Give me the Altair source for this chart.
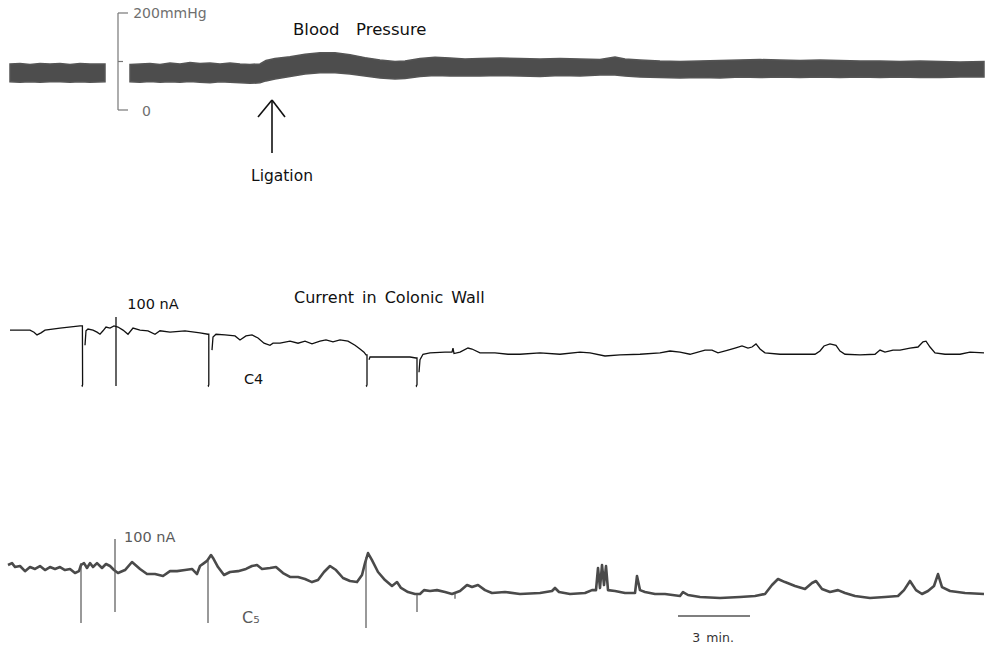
import altair as alt
import pandas as pd

# ---------------- data (time in seconds; 3 min = 180 s) ----------------
# Blood pressure band (systolic / diastolic, mmHg); two recording segments
bp_t = [25, 50, 75, 100, 125, 150, 175, 200, 225, 262.5,
        325, 350, 375, 400, 425, 450, 475, 500, 525, 550, 575, 600, 625, 650,
        665, 687.5, 725, 762.5, 800, 837.5, 875, 912.5, 950, 987.5, 1012.5,
        1050, 1087.5, 1125, 1162.5, 1200, 1250, 1300, 1350, 1400, 1450, 1500,
        1537.5, 1562.5, 1600, 1650, 1700, 1750, 1800, 1850, 1900, 1950, 2000,
        2050, 2100, 2150, 2200, 2250, 2300, 2350, 2400, 2460]
bp_sys = [95, 96, 94, 96, 95, 96, 94, 96, 95, 95,
          94, 95, 96, 94, 97, 95, 98, 96, 97, 95, 97, 95, 94, 95,
          102, 106, 110, 115, 118, 118, 114, 108, 103, 100, 101,
          106, 109, 107, 105, 106, 107, 106, 105, 106, 105, 104,
          109, 105, 103, 101, 100, 101, 102, 103, 104, 103, 102,
          103, 102, 101, 101, 100, 101, 100, 99, 100]
bp_dia = [58, 57, 58, 57, 58, 58, 57, 58, 57, 58,
          58, 57, 59, 57, 58, 57, 59, 57, 56, 58, 57, 56, 55, 56,
          60, 64, 69, 74, 77, 77, 74, 70, 66, 64, 65,
          69, 71, 70, 70, 70, 71, 70, 69, 71, 70, 72,
          72, 70, 68, 67, 66, 67, 66, 68, 67, 68, 67,
          68, 67, 68, 67, 68, 67, 67, 68, 68]
bp_seg = [1] * 10 + [2] * 56

# Current C4 (nA), pen segments
c4_t = [25, 75, 85, 92.5, 102.5, 112.5, 150, 200, 205, 206, 206.5, 205.5, 204,
        212.5, 215, 220, 232.5, 242.5, 250, 257.5, 265, 275, 285, 295, 307.5, 320,
        332.5, 350, 370, 387.5, 400, 425, 462.5, 500, 520, 522, 522, 521, 519.5,
        530, 532.5, 540, 562.5, 587.5, 600, 615, 630, 645, 660, 675, 682.5, 700,
        725, 745, 762.5, 780, 800, 815, 832.5, 850, 870, 887.5, 900, 910, 915,
        917.5, 917.5, 916.5, 915,
        922.5, 925, 950, 987.5, 1025, 1040, 1042.5, 1042.5, 1041, 1040,
        1047.5, 1050, 1057.5, 1075, 1112.5, 1130, 1132.5, 1135, 1150, 1170, 1180,
        1200, 1237.5, 1270, 1300, 1350, 1400, 1450, 1475, 1512.5, 1550, 1600,
        1650, 1675, 1700, 1725, 1762.5, 1780, 1795, 1820, 1837.5, 1855, 1870,
        1880, 1890, 1900, 1912.5, 1950, 2000, 2037.5, 2050, 2060, 2075, 2090,
        2100, 2112.5, 2150, 2187.5, 2200, 2212.5, 2232.5, 2250, 2275, 2295,
        2307.5, 2315, 2325, 2337.5, 2362.5, 2400, 2425, 2460]
c4_v = [81, 81, 78, 74, 77, 81, 84, 87, 87, 87, 2, 0, 1,
        59, 80, 82.6, 81, 78, 75, 80, 85.5, 84, 87, 85.5, 81, 75,
        84, 81, 80, 75, 80, 78, 80, 77, 75, 75, 2, 0, 1,
        52, 71, 75, 74, 72.5, 66.7, 72.5, 74, 69.6, 62, 59, 62, 62,
        65, 62, 65, 61, 65, 66.7, 64, 66.7, 65, 59, 53.6, 49, 45,
        45, 2, 0, 1,
        38, 42, 42, 42, 42, 40.6, 40.6, 2, 0, 1,
        20, 38, 46, 48, 49, 49, 55, 47, 49, 55, 53.6,
        48, 48, 46, 46, 48, 46, 49, 48, 43.5, 45, 46,
        48, 50.7, 49, 46, 52, 52, 48, 52, 55, 58, 55,
        56.5, 61, 53.6, 48, 46, 46, 46, 50.7, 58, 61, 59,
        50.7, 46, 45, 46, 52, 49, 52, 52, 55, 56.5,
        64, 65, 56.5, 48, 46, 46, 49, 48]
c4_seg = [1] * 13 + [2] * 26 + [3] * 30 + [4] * 10 + [5] * 62

# Current C5 (nA)
c5_t = [20, 30, 37.5, 50, 62.5, 75, 87.5, 100, 112.5, 125, 137.5, 150, 162.5,
        175, 187.5, 197.5, 202.5, 210, 217.5, 225, 232.5, 242.5, 255, 265, 275,
        285, 295, 312.5, 330, 350, 367.5, 387.5, 407.5, 425, 442.5, 462.5, 480,
        492.5, 500, 510, 517.5, 527.5, 532.5, 545, 560, 575, 595, 615, 630,
        642.5, 655, 675, 690, 707.5, 725, 745, 762.5, 780, 795, 810, 825, 840,
        857.5, 875, 892.5, 905, 912.5, 920, 930, 945, 962.5, 980, 992.5, 1002.5,
        1020, 1037.5, 1050, 1060, 1075, 1092.5, 1112.5, 1130, 1150, 1167.5,
        1180, 1195, 1212.5, 1230, 1262.5, 1300, 1350, 1380, 1387.5, 1397.5,
        1425, 1462.5, 1480, 1490, 1495, 1500, 1505, 1510, 1515, 1520, 1537.5,
        1562.5, 1587.5, 1592.5, 1600, 1612.5, 1637.5, 1662.5, 1700, 1707.5,
        1720, 1750, 1800, 1850, 1887.5, 1912.5, 1930, 1945, 1962.5, 1987.5,
        2012.5, 2030, 2040, 2055, 2075, 2095, 2112.5, 2137.5, 2175, 2212.5,
        2245, 2260, 2275, 2290, 2305, 2320, 2335, 2345, 2355, 2375, 2412.5, 2460]
c5_v = [64.4, 67, 61.6, 63, 56, 61.6, 59, 63, 57.5, 61.6, 59, 61.6, 57.5,
        59, 53.4, 56, 64.4, 67, 60.3, 67, 61.6, 67, 60.3, 65.8, 63,
        57.5, 53.4, 57.5, 68.5, 59, 52, 52, 49.3, 56, 56, 57.5, 59,
        52, 63, 67, 70, 78, 74, 61.6, 50.7, 54.8, 56, 59, 63,
        64.4, 59, 60.3, 61.6, 53.4, 48, 48, 45.2, 41, 43.8, 54.8, 63, 57.5,
        46.6, 42.5, 41, 50.7, 67, 80.8, 71, 54.8, 43.8, 35.6, 41, 32.9,
        27.4, 24.7, 24.7, 30, 28.8, 30, 27.4, 24.7, 28.8, 37,
        34.2, 37, 30, 26, 27.4, 24.7, 26, 28.8, 32.9, 27.4,
        24.7, 26, 30, 30, 60.3, 32.9, 64.4, 37, 63, 30, 28.8,
        26, 26, 49.3, 30, 27.4, 24.7, 24.7, 21.9, 27.4,
        23.3, 20.5, 19.2, 20.5, 21.9, 24.7, 37, 45.2, 41, 35.6,
        31.5, 39.7, 42.5, 31.5, 27.4, 30, 26, 21.9, 19.2, 20.5,
        21.9, 30, 42.5, 30, 24.7, 28.8, 35.6, 52, 34.2, 28.8, 26, 24.7]
# thin pen strokes in C5 (time, top, bottom in nA)
c5_spk_t = [202.5, 520, 915, 1042.5, 1137.5]
c5_spk_top = [67, 70, 75, 25, 25]
c5_spk_bot = [-15, -15, -22, 0, 18]

# Calibration / annotation marks
bp_scale_t = [295, 295, 295, 295]
bp_scale_t2 = [295, 320, 307.5, 320]
bp_scale_v = [0, 200, 100, 0]
bp_scale_v2 = [200, 200, 100, 0]

arrow_t = [680, 645, 712.5]
arrow_t2 = [680, 680, 680]
arrow_v = [-88.7, -14.4, -14.4]
arrow_v2 = [20.6, 20.6, 20.6]

SP = "\u2002\u2002"  # wide word gap of the original lettering
bp_labels = ["200mmHg", "0"]
bp_label_t = [333, 355]
bp_label_v = [198, -5]
bp_titles = ["Blood" + SP + "Pressure", "Ligation"]
bp_title_t = [732.5, 705]
bp_title_v = [165, -136]

c4_cal_t, c4_cal_lo, c4_cal_hi = [290], [0], [100]
c4_labels = ["100 nA", "\u2002".join(["Current", "in", "Colonic", "Wall"]), "C4"]
c4_label_t = [318, 735, 610]
c4_label_v = [117, 127.5, 8.7]

c5_cal_t, c5_cal_lo, c5_cal_hi = [287.5], [0], [100]
c5_labels = ["100 nA", "C\u2085", "3\u2002min."]
c5_label_t = [310, 605, 1782.5]
c5_label_v = [101, -8.2, -35.6]
time_bar_t, time_bar_t2, time_bar_v = [1695], [1875], [-5.5]

# ---------------- scales ----------------
FONT = "DejaVu Sans"
xs = alt.Scale(domain=[0, 2462.5], nice=False, zero=False)
bp_s = alt.Scale(domain=[-1109.3, 226.8], nice=False, zero=False)
c4_s = alt.Scale(domain=[-379.7, 559.4], nice=False, zero=False)
c5_s = alt.Scale(domain=[-49.3, 838.4], nice=False, zero=False)


def txt(df, scale, size, color, align="left"):
    return alt.Chart(df).mark_text(align=align, baseline="middle", font=FONT,
                                   fontSize=size, color=color).encode(
        x=alt.X("t:Q", scale=xs, axis=None),
        y=alt.Y("v:Q", scale=scale, axis=None),
        text="txt:N")


# ---------------- blood pressure ----------------
bp_df = pd.DataFrame({"t": bp_t, "sys": bp_sys, "dia": bp_dia, "seg": bp_seg})
bp_area = alt.Chart(bp_df).mark_area(color="#4d4d4d", stroke="#555555", strokeWidth=1.5).encode(
    x=alt.X("t:Q", scale=xs, axis=None),
    y=alt.Y("sys:Q", scale=bp_s, axis=None),
    y2="dia:Q",
    detail="seg:N",
)
bps_df = pd.DataFrame({"t": bp_scale_t, "t2": bp_scale_t2, "v": bp_scale_v, "v2": bp_scale_v2})
bp_bracket = alt.Chart(bps_df).mark_rule(color="#777777", strokeWidth=1.2).encode(
    x=alt.X("t:Q", scale=xs, axis=None), x2="t2:Q",
    y=alt.Y("v:Q", scale=bp_s, axis=None), y2="v2:Q",
)
arr_df = pd.DataFrame({"t": arrow_t, "t2": arrow_t2, "v": arrow_v, "v2": arrow_v2})
bp_arrow = alt.Chart(arr_df).mark_rule(color="#111111", strokeWidth=1.6).encode(
    x=alt.X("t:Q", scale=xs, axis=None), x2="t2:Q",
    y=alt.Y("v:Q", scale=bp_s, axis=None), y2="v2:Q",
)
bpl_df = pd.DataFrame({"t": bp_label_t, "v": bp_label_v, "txt": bp_labels})
bp_lab = txt(bpl_df, bp_s, 14, "#6f6f6f")
bpt_df = pd.DataFrame({"t": bp_title_t, "v": bp_title_v, "txt": bp_titles})
bp_tit1 = txt(bpt_df.iloc[[0]], bp_s, 16.5, "#111111")
bp_tit2 = txt(bpt_df.iloc[[1]], bp_s, 15.5, "#111111", align="center")
bp_layer = alt.layer(bp_area, bp_bracket, bp_arrow, bp_lab, bp_tit1, bp_tit2)

# ---------------- C4 ----------------
c4_df = pd.DataFrame({"t": c4_t, "v": c4_v, "seg": c4_seg, "i": range(len(c4_t))})
c4_line = alt.Chart(c4_df).mark_line(color="#111111", strokeWidth=1.3).encode(
    x=alt.X("t:Q", scale=xs, axis=None),
    y=alt.Y("v:Q", scale=c4_s, axis=None),
    detail="seg:N", order="i:Q",
)
c4c_df = pd.DataFrame({"t": c4_cal_t, "lo": c4_cal_lo, "hi": c4_cal_hi})
c4_cal = alt.Chart(c4c_df).mark_rule(color="#111111", strokeWidth=1.3).encode(
    x=alt.X("t:Q", scale=xs, axis=None), y=alt.Y("lo:Q", scale=c4_s, axis=None), y2="hi:Q")
c4l_df = pd.DataFrame({"t": c4_label_t, "v": c4_label_v, "txt": c4_labels})
c4_lab = txt(c4l_df.iloc[[0, 2]], c4_s, 14.5, "#111111")
c4_tit = txt(c4l_df.iloc[[1]], c4_s, 16, "#111111")
c4_layer = alt.layer(c4_line, c4_cal, c4_lab, c4_tit)

# ---------------- C5 ----------------
c5_df = pd.DataFrame({"t": c5_t, "v": c5_v})
c5_line = alt.Chart(c5_df).mark_line(color="#4a4a4a", strokeWidth=2.6, strokeJoin="round").encode(
    x=alt.X("t:Q", scale=xs, axis=None),
    y=alt.Y("v:Q", scale=c5_s, axis=None),
)
c5s_df = pd.DataFrame({"t": c5_spk_t, "top": c5_spk_top, "bot": c5_spk_bot})
c5_spk = alt.Chart(c5s_df).mark_rule(color="#555555", strokeWidth=1.2).encode(
    x=alt.X("t:Q", scale=xs, axis=None), y=alt.Y("bot:Q", scale=c5_s, axis=None), y2="top:Q")
c5c_df = pd.DataFrame({"t": c5_cal_t, "lo": c5_cal_lo, "hi": c5_cal_hi})
c5_cal = alt.Chart(c5c_df).mark_rule(color="#555555", strokeWidth=1.2).encode(
    x=alt.X("t:Q", scale=xs, axis=None), y=alt.Y("lo:Q", scale=c5_s, axis=None), y2="hi:Q")
tb_df = pd.DataFrame({"t": time_bar_t, "t2": time_bar_t2, "v": time_bar_v})
c5_tb = alt.Chart(tb_df).mark_rule(color="#555555", strokeWidth=1.5).encode(
    x=alt.X("t:Q", scale=xs, axis=None), x2="t2:Q", y=alt.Y("v:Q", scale=c5_s, axis=None))
c5l_df = pd.DataFrame({"t": c5_label_t, "v": c5_label_v, "txt": c5_labels})
c5_lab1 = txt(c5l_df.iloc[[0]], c5_s, 14.5, "#5a5a5a")
c5_lab1b = txt(c5l_df.iloc[[1]], c5_s, 16, "#5a5a5a")
c5_lab2 = txt(c5l_df.iloc[[2]], c5_s, 12.5, "#333333", align="center")
c5_layer = alt.layer(c5_line, c5_spk, c5_cal, c5_tb, c5_lab1, c5_lab1b, c5_lab2)

chart = alt.layer(bp_layer, c4_layer, c5_layer).resolve_scale(y="independent").properties(
    width=985, height=648, padding=0, autosize="none", background="white"
).configure_view(stroke=None)

chart.save("out.html", embed_options={"renderer": "svg", "actions": False})
